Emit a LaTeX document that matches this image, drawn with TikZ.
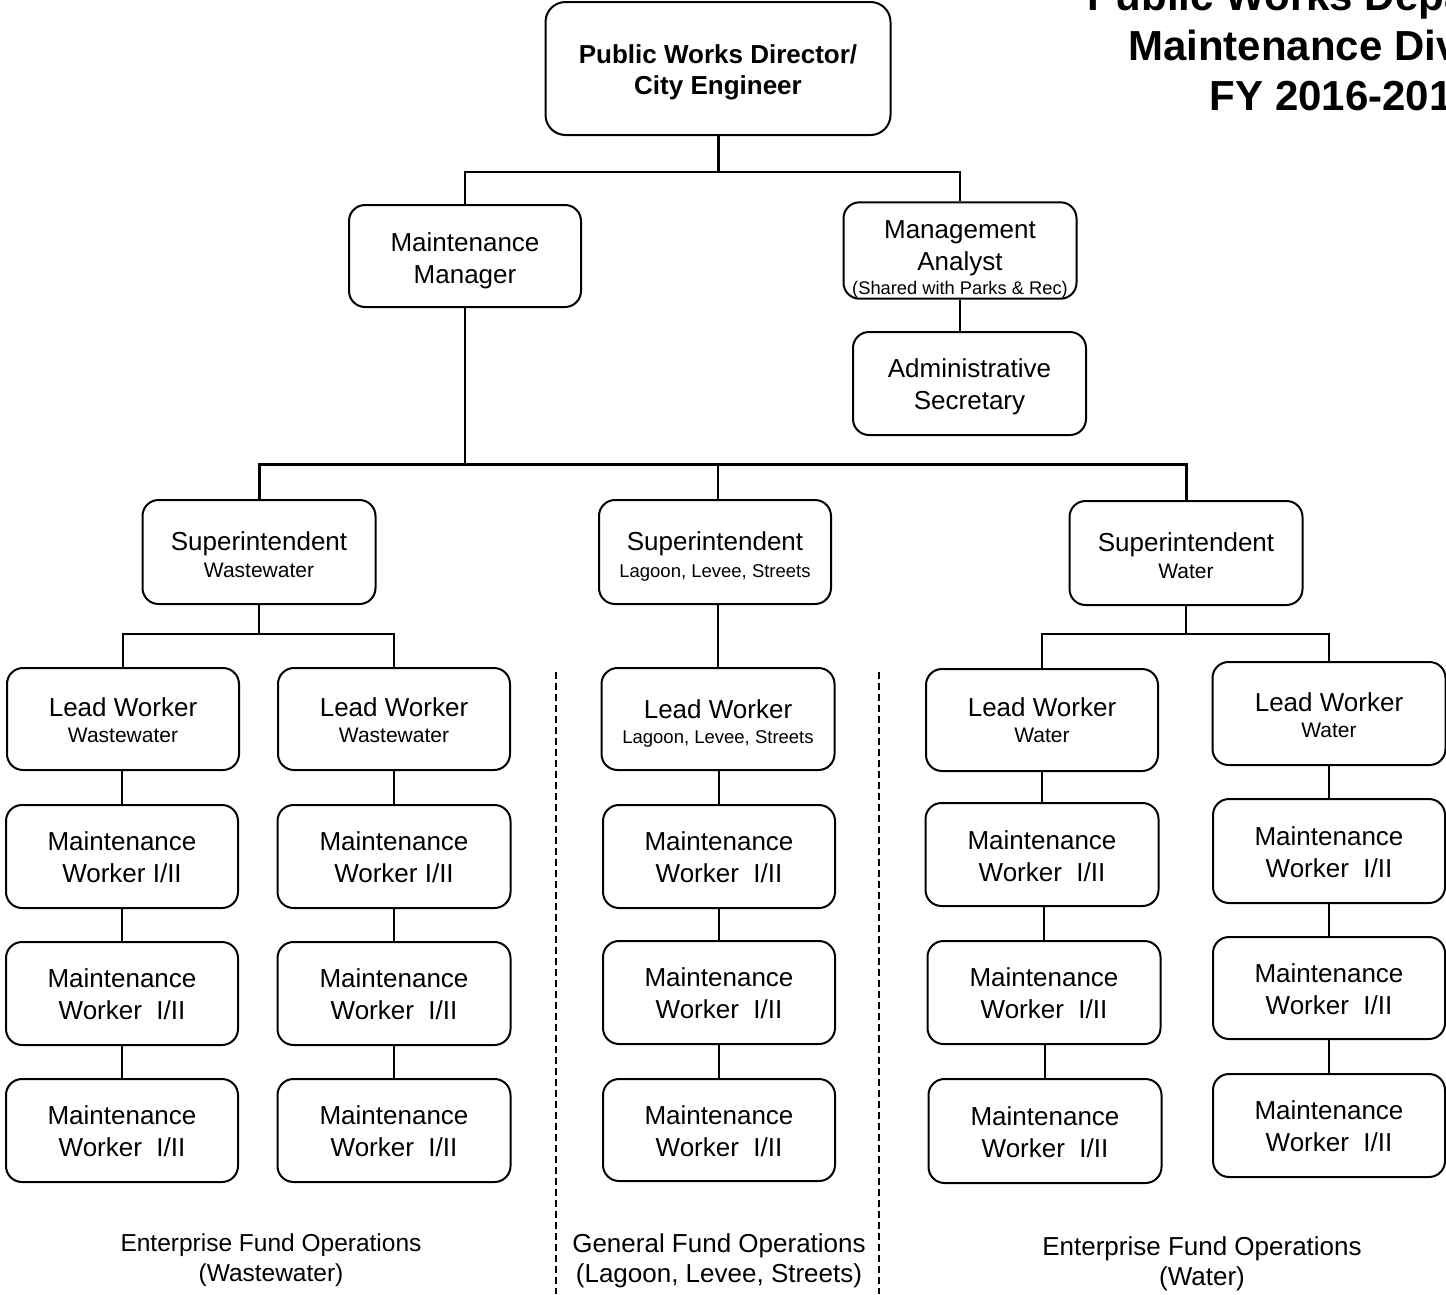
\documentclass[tikz,border=0pt]{standalone}
\usepackage{fontspec}
\setmainfont{Liberation Sans}
\newcommand\subfont{\fontsize{21}{24}\selectfont}
\newcommand\narrowsub{\fontsize{18.5}{22}\selectfont}
\newcommand\sharedfont{\fontsize{18.3}{22}\selectfont}
% invisible strut that sets the height of a box's first text line
\newcommand\tp[1]{\rule{0pt}{#1pt}}
\begin{document}
\begin{tikzpicture}[x=1pt,y=-1pt,
  box/.style={draw, line width=2pt, rounded corners=16pt, align=center,
    inner sep=0pt, minimum width=233pt, minimum height=103pt,
    font=\fontsize{26}{32}\selectfont},
  link/.style={line width=2pt},
  heavy/.style={line width=3pt},
  divider/.style={line width=2pt, dash pattern=on 7pt off 4pt},
  titletext/.style={anchor=base, inner sep=0pt, font=\fontsize{42}{50}\selectfont\bfseries},
  foot/.style={align=center, inner sep=0pt, font=\fontsize{26}{30}\selectfont}]
\useasboundingbox (0,0) rectangle (1446,1294);
\fill[white] (0,0) rectangle (1446,1294);

% heading
\node[titletext] (t1) at (1343,10) {Public Works Department};
\node[titletext] (t2) at (1343,60) {Maintenance Division};
\node[titletext] (t3) at (1343,110) {FY 2016-2017};

% management levels
\node[box, minimum width=345pt, minimum height=133pt, rounded corners=20pt,
  font=\fontsize{26}{31}\selectfont\bfseries] (dir) at (718,68.5)
  {\tp{27}Public Works Director/\\City Engineer};
\node[box, minimum width=232pt, minimum height=102pt] (mgr) at (465,256)
  {\tp{28.6}Maintenance\\Manager};
\node[box, minimum height=94pt] (ana) at (960,250.5)
  {\tp{36.6}Management\\Analyst\\[-8pt]{\sharedfont (Shared with Parks \& Rec)}};
\node[box] (adm) at (969.5,383.5) {\tp{24.6}Administrative\\Secretary};

% superintendents
\node[box, minimum height=104pt] (supww) at (259,552)
  {\tp{24}Superintendent\\[-5pt]{\subfont Wastewater}};
\node[box, minimum width=232pt, minimum height=104pt] (supl) at (715,552)
  {\tp{27.6}Superintendent\\[-5pt]{\narrowsub Lagoon, Levee, Streets}};
\node[box, minimum height=104pt] (supw) at (1186,553)
  {\tp{24.6}Superintendent\\[-5pt]{\subfont Water}};

% lead workers
\node[box, minimum width=232pt, minimum height=102pt] (lww1) at (123,719)
  {\tp{20.6}Lead Worker\\[-6pt]{\subfont Wastewater}};
\node[box, minimum width=232pt, minimum height=102pt] (lww2) at (394,719)
  {\tp{20.6}Lead Worker\\[-6pt]{\subfont Wastewater}};
\node[box, minimum height=102pt] (ll) at (718,719)
  {\tp{27.6}Lead Worker\\[-7pt]{\narrowsub Lagoon, Levee, Streets}};
\node[box, minimum width=232pt, minimum height=102pt] (lw1) at (1042,720)
  {Lead Worker\\[-6pt]{\subfont Water}};
\node[box, minimum height=103pt] (lw2) at (1329,713.5)
  {\tp{22.6}Lead Worker\\[-6pt]{\subfont Water}};

% maintenance workers, wastewater
\node[box, minimum width=232pt] (mwa1) at (122,856.5) {\tp{20.6}Maintenance\\Worker I/II};
\node[box, minimum width=232pt] (mwa2) at (122,993.5) {\tp{20.6}Maintenance\\Worker\ \ I/II};
\node[box, minimum width=232pt] (mwa3) at (122,1130.5) {\tp{20.6}Maintenance\\Worker\ \ I/II};
\node[box] (mwb1) at (394,856.5) {\tp{20.6}Maintenance\\Worker I/II};
\node[box] (mwb2) at (394,993.5) {\tp{20.6}Maintenance\\Worker\ \ I/II};
\node[box] (mwb3) at (394,1130.5) {\tp{20.6}Maintenance\\Worker\ \ I/II};

% maintenance workers, lagoon / levee / streets
\node[box, minimum width=232pt] (mwl1) at (719,856.5) {\tp{20.6}Maintenance\\Worker\ \ I/II};
\node[box, minimum width=232pt] (mwl2) at (719,992.5) {\tp{20.6}Maintenance\\Worker\ \ I/II};
\node[box, minimum width=232pt, minimum height=102pt] (mwl3) at (719,1130) {\tp{20.6}Maintenance\\Worker\ \ I/II};

% maintenance workers, water
\node[box] (mwc1) at (1042,854.5) {\tp{22.6}Maintenance\\Worker\ \ I/II};
\node[box] (mwc2) at (1044,992.5) {\tp{20.6}Maintenance\\Worker\ \ I/II};
\node[box, minimum height=104pt] (mwc3) at (1045,1131) {\tp{20.6}Maintenance\\Worker\ \ I/II};
\node[box, minimum width=232pt, minimum height=104pt] (mwd1) at (1329,851) {\tp{20.6}Maintenance\\Worker\ \ I/II};
\node[box, minimum width=232pt, minimum height=102pt] (mwd2) at (1329,988) {\tp{20.6}Maintenance\\Worker\ \ I/II};
\node[box, minimum width=232pt, minimum height=103pt] (mwd3) at (1329,1125.5) {\tp{20.6}Maintenance\\Worker\ \ I/II};

% junction points of the reporting lines
\coordinate (j1) at (718,172);
\coordinate (j2) at (465,464);
\coordinate (j3) at (259,634);
\coordinate (j4) at (1186,634);

% reporting lines
\draw[heavy] (dir.south) -- (dir.south |- j1);
\draw[link] (mgr.north) |- (j1) -| (ana.north);
\draw[link] (ana.south) -- (ana.south |- adm.north);
\draw[link] (mgr.south) -- (j2);
\draw[heavy] (supww.north) |- (j2) -| (supw.north);
\draw[link] (ll.north |- j2) -- (ll.north |- supl.north);

\draw[link] (supww.south) -- (j3);
\draw[link] (lww1.north) |- (j3) -| (lww2.north);
\draw[link] (ll.north |- supl.south) -- (ll.north);
\draw[link] (supw.south) -- (j4);
\draw[link] (lw1.north) |- (j4) -| (lw2.north);

% each column: line drops from the box above into the box below
\foreach \up/\dn in {lww1/mwa1, mwa1/mwa2, mwa2/mwa3,
                     lww2/mwb1, mwb1/mwb2, mwb2/mwb3,
                     ll/mwl1, mwl1/mwl2, mwl2/mwl3,
                     lw1/mwc1, mwc1/mwc2, mwc2/mwc3,
                     lw2/mwd1, mwd1/mwd2, mwd2/mwd3}
  \draw[link] (\dn.north |- \up.south) -- (\dn.north);

% fund dividers
\coordinate (d1a) at (555.5,672);
\coordinate (d1b) at (555.5,1294);
\coordinate (d2a) at (878.5,672);
\coordinate (d2b) at (878.5,1294);
\draw[divider] (d1a) -- (d1b);
\draw[divider] (d2a) -- (d2b);

% fund labels
\node[foot, font=\fontsize{24.5}{30}\selectfont] (f1) at (271,1260)
  {Enterprise Fund Operations\\(Wastewater)};
\node[foot] (f2) at (719,1261) {General Fund Operations\\(Lagoon, Levee, Streets)};
\node[foot] (f3) at (1202,1264) {Enterprise Fund Operations\\(Water)};
\end{tikzpicture}
\end{document}
